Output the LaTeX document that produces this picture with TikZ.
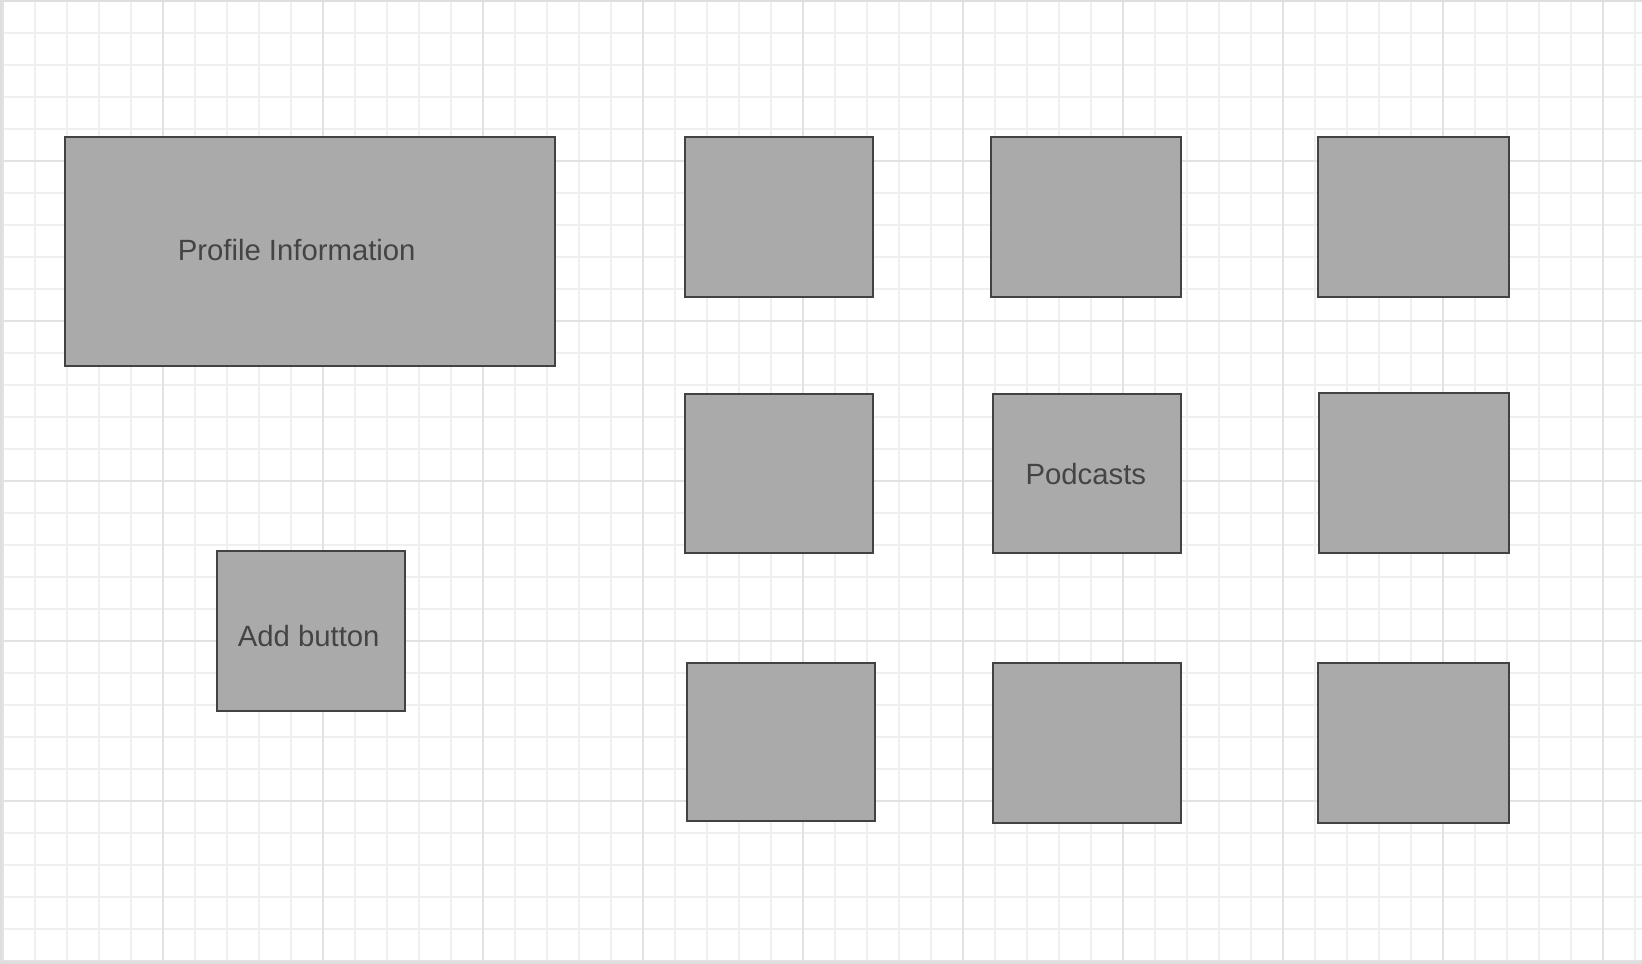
\documentclass[tikz,border=0pt]{standalone}
\usepackage{fontspec}
\setmainfont{Liberation Sans}
\definecolor{boxfill}{HTML}{AAAAAA}
\definecolor{boxline}{HTML}{424242}
\definecolor{labeltext}{HTML}{444444}
\definecolor{gridminor}{HTML}{EFEFEF}
\definecolor{gridmajor}{HTML}{E2E2E2}
\definecolor{pageframe}{HTML}{DEDEDE}
\tikzset{
  tile/.style={rectangle, draw=boxline, fill=boxfill, line width=2pt, inner sep=0pt},
  caption/.style={anchor=base, text=labeltext, inner sep=0pt, font=\fontsize{29.3}{34}\selectfont},
}
\begin{document}
\begin{tikzpicture}[x=1pt,y=-1pt]
  \useasboundingbox (0,0) rectangle (1642,964);
  \fill[white] (0,0) rectangle (1642,964);
  % background grid: fine lines every 32, heavier every 160
  \foreach \x in {3,35,...,1640} \draw[gridminor, line width=1.2pt] (\x,0) -- (\x,964);
  \foreach \y in {1,33,...,962} \draw[gridminor, line width=1.2pt] (0,\y) -- (1642,\y);
  \foreach \x in {3,163,...,1640} \draw[gridmajor, line width=1.5pt] (\x,0) -- (\x,964);
  \foreach \y in {1,161,...,962} \draw[gridmajor, line width=1.5pt] (0,\y) -- (1642,\y);
  % page edge
  \draw[pageframe, line width=2.5pt] (1.2,964) -- (1.2,1.2) -- (1642,1.2);
  \draw[pageframe, line width=3pt] (0,962.5) -- (1642,962.5);

  % left column
  \node[tile, minimum width=490pt, minimum height=229.5pt] (profile) at (310,251.7) {};
  \node[tile, minimum width=188.3pt, minimum height=160pt] (addbtn) at (310.8,631) {};

  % tile grid
  \node[tile, minimum width=188pt, minimum height=160pt] (t11) at (779,217) {};
  \node[tile, minimum width=190pt, minimum height=160pt] (t12) at (1086,217) {};
  \node[tile, minimum width=190.5pt, minimum height=160pt] (t13) at (1413.7,217) {};
  \node[tile, minimum width=188pt, minimum height=159.5pt] (t21) at (779,473.3) {};
  \node[tile, minimum width=188.3pt, minimum height=159.5pt] (podcasts) at (1087,473.3) {};
  \node[tile, minimum width=190pt, minimum height=159.5pt] (t23) at (1414,473) {};
  \node[tile, minimum width=188.5pt, minimum height=158.5pt] (t31) at (781.2,742.2) {};
  \node[tile, minimum width=188pt, minimum height=160pt] (t32) at (1087,743) {};
  \node[tile, minimum width=190.5pt, minimum height=160pt] (t33) at (1413.7,743) {};

  % captions
  \node[caption] (profiletext) at (296.7,260) {Profile Information};
  \node[caption] (addtext) at (308.7,646.7) {Add button};
  \node[caption] (podcaststext) at (1085.8,484) {Podcasts};
\end{tikzpicture}
\end{document}
